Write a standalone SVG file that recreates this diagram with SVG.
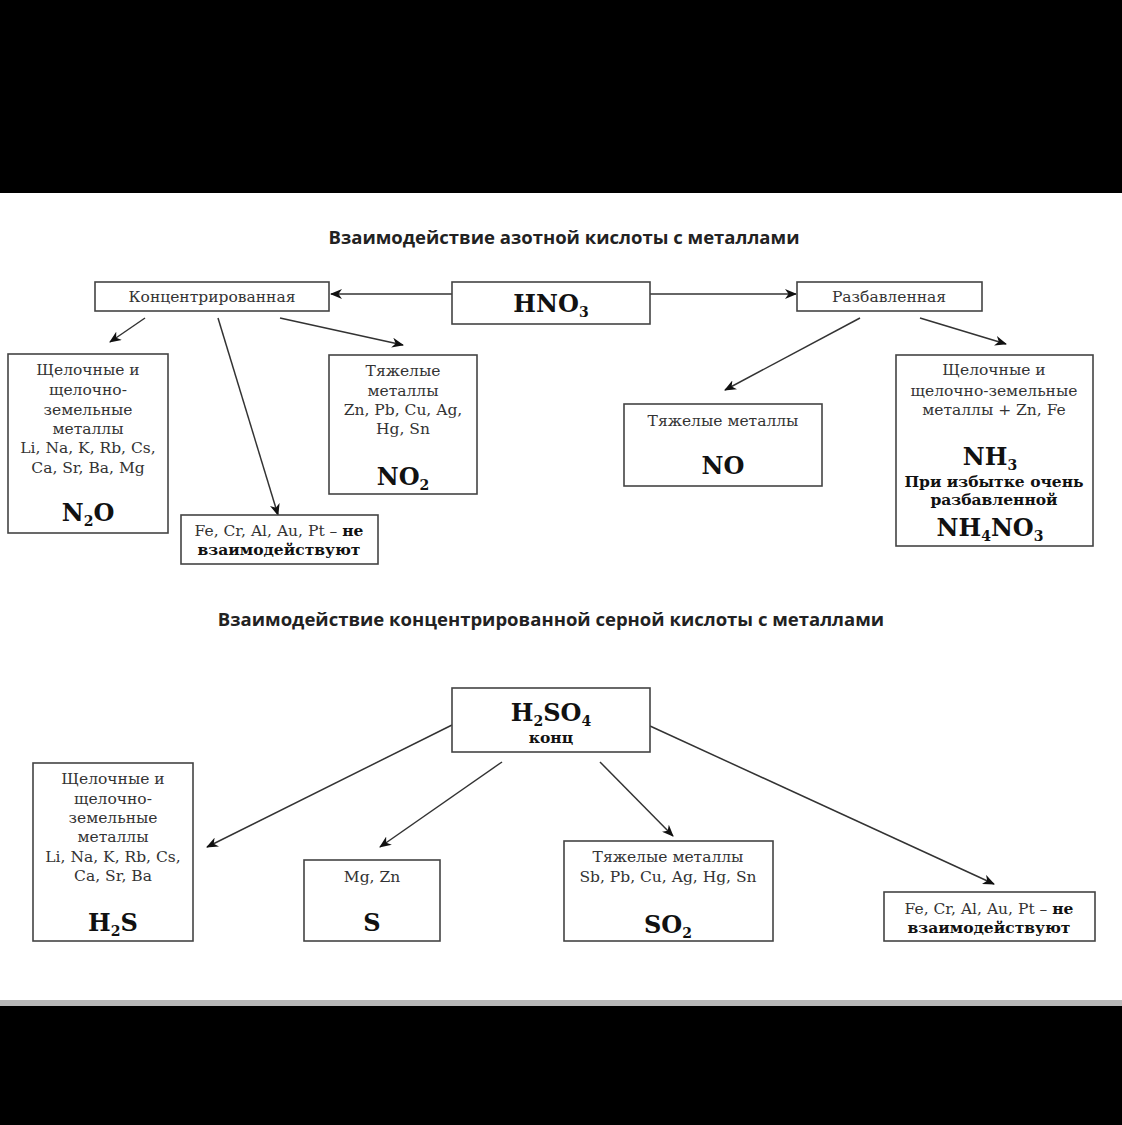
<svg xmlns="http://www.w3.org/2000/svg" width="1122" height="1125" viewBox="0 0 1122 1125">
<defs>
<marker id="arr" viewBox="0 0 12 10" refX="11" refY="5" markerWidth="12" markerHeight="10" markerUnits="userSpaceOnUse" orient="auto">
<path d="M0,0 L12,5 L0,10 L3.5,5 z" fill="#111"/>
</marker>
<style>
.box{fill:#fff;stroke:#444;stroke-width:1.6}
.t{font-family:"DejaVu Serif","Liberation Serif",serif;font-size:15.5px;fill:#333;text-anchor:middle}
.b{font-family:"DejaVu Serif","Liberation Serif",serif;font-weight:bold;fill:#111;text-anchor:middle;font-size:15.5px}
.f{font-size:24px}
.s{font-size:14px}
.h{font-family:"Open Sans","DejaVu Sans",sans-serif;font-weight:bold;font-size:18.5px;fill:#222;text-anchor:middle}
.c line{stroke:#333;stroke-width:1.5;marker-end:url(#arr)}
</style>
</defs>
<rect x="0" y="0" width="1122" height="1125" fill="#000"/>
<rect x="0" y="193" width="1122" height="807" fill="#fff"/>
<rect x="0" y="1000" width="1122" height="6" fill="#b8b8b8"/>

<text class="h" x="564" y="244">Взаимодействие азотной кислоты с металлами</text>
<text class="h" x="551" y="626">Взаимодействие концентрированной серной кислоты с металлами</text>

<g class="c" id="connectors">
<line x1="452" y1="294" x2="331" y2="294"/>
<line x1="650" y1="294" x2="796" y2="294"/>
<line x1="145" y1="318" x2="110" y2="342"/>
<line x1="218" y1="318" x2="278" y2="515"/>
<line x1="280" y1="318" x2="403" y2="345"/>
<line x1="860" y1="318" x2="725" y2="390"/>
<line x1="920" y1="318" x2="1006" y2="344"/>
<line x1="452" y1="725" x2="207" y2="847"/>
<line x1="502" y1="762" x2="380" y2="847"/>
<line x1="600" y1="762" x2="673" y2="836"/>
<line x1="650" y1="726" x2="994" y2="884"/>
</g>

<g id="hno3">
<rect class="box" x="452" y="282" width="198" height="42"/>
<text class="b f" x="551" y="312">HNO<tspan class="s" dy="5">3</tspan></text>
</g>
<g id="konc">
<rect class="box" x="95" y="282" width="234" height="29"/>
<text class="t" x="212" y="302">Концентрированная</text>
</g>
<g id="razb">
<rect class="box" x="797" y="282" width="185" height="29"/>
<text class="t" x="889" y="302">Разбавленная</text>
</g>
<g id="n2o">
<rect class="box" x="8" y="354" width="160" height="179"/>
<text class="t" x="88" y="375">Щелочные и</text>
<text class="t" x="88" y="395">щелочно-</text>
<text class="t" x="88" y="415">земельные</text>
<text class="t" x="88" y="434">металлы</text>
<text class="t" x="88" y="453">Li, Na, K, Rb, Cs,</text>
<text class="t" x="88" y="473">Ca, Sr, Ba, Mg</text>
<text class="b f" x="88" y="521">N<tspan class="s" dy="5">2</tspan><tspan dy="-5">O</tspan></text>
</g>
<g id="nonreact1">
<rect class="box" x="181" y="515" width="197" height="49"/>
<text class="t" x="279" y="536">Fe, Cr, Al, Au, Pt – <tspan class="b" style="fill:#111">не</tspan></text>
<text class="b" x="279" y="555">взаимодействуют</text>
</g>
<g id="no2">
<rect class="box" x="329" y="355" width="148" height="139"/>
<text class="t" x="403" y="376">Тяжелые</text>
<text class="t" x="403" y="396">металлы</text>
<text class="t" x="403" y="415">Zn, Pb, Cu, Ag,</text>
<text class="t" x="403" y="434">Hg, Sn</text>
<text class="b f" x="403" y="485">NO<tspan class="s" dy="5">2</tspan></text>
</g>
<g id="no">
<rect class="box" x="624" y="404" width="198" height="82"/>
<text class="t" x="723" y="426">Тяжелые металлы</text>
<text class="b f" x="723" y="474">NO</text>
</g>
<g id="nh3">
<rect class="box" x="896" y="355" width="197" height="191"/>
<text class="t" x="994" y="375">Щелочные и</text>
<text class="t" x="994" y="396">щелочно-земельные</text>
<text class="t" x="994" y="415">металлы + Zn, Fe</text>
<text class="b f" x="990" y="465">NH<tspan class="s" dy="5">3</tspan></text>
<text class="b" x="994" y="487">При избытке очень</text>
<text class="b" x="994" y="505">разбавленной</text>
<text class="b f" x="990" y="536">NH<tspan class="s" dy="5">4</tspan><tspan dy="-5">NO</tspan><tspan class="s" dy="5">3</tspan></text>
</g>

<g id="h2so4">
<rect class="box" x="452" y="688" width="198" height="64"/>
<text class="b f" x="551" y="721">H<tspan class="s" dy="5">2</tspan><tspan dy="-5">SO</tspan><tspan class="s" dy="5">4</tspan></text>
<text class="b" x="551" y="743">конц</text>
</g>
<g id="h2s">
<rect class="box" x="33" y="763" width="160" height="178"/>
<text class="t" x="113" y="784">Щелочные и</text>
<text class="t" x="113" y="804">щелочно-</text>
<text class="t" x="113" y="823">земельные</text>
<text class="t" x="113" y="842">металлы</text>
<text class="t" x="113" y="862">Li, Na, K, Rb, Cs,</text>
<text class="t" x="113" y="881">Ca, Sr, Ba</text>
<text class="b f" x="113" y="931">H<tspan class="s" dy="5">2</tspan><tspan dy="-5">S</tspan></text>
</g>
<g id="s">
<rect class="box" x="304" y="860" width="136" height="81"/>
<text class="t" x="372" y="882">Mg, Zn</text>
<text class="b f" x="372" y="931">S</text>
</g>
<g id="so2">
<rect class="box" x="564" y="841" width="209" height="100"/>
<text class="t" x="668" y="862">Тяжелые металлы</text>
<text class="t" x="668" y="882">Sb, Pb, Cu, Ag, Hg, Sn</text>
<text class="b f" x="668" y="933">SO<tspan class="s" dy="5">2</tspan></text>
</g>
<g id="nonreact2">
<rect class="box" x="884" y="892" width="211" height="49"/>
<text class="t" x="989" y="914">Fe, Cr, Al, Au, Pt – <tspan class="b" style="fill:#111">не</tspan></text>
<text class="b" x="989" y="933">взаимодействуют</text>
</g>
</svg>
